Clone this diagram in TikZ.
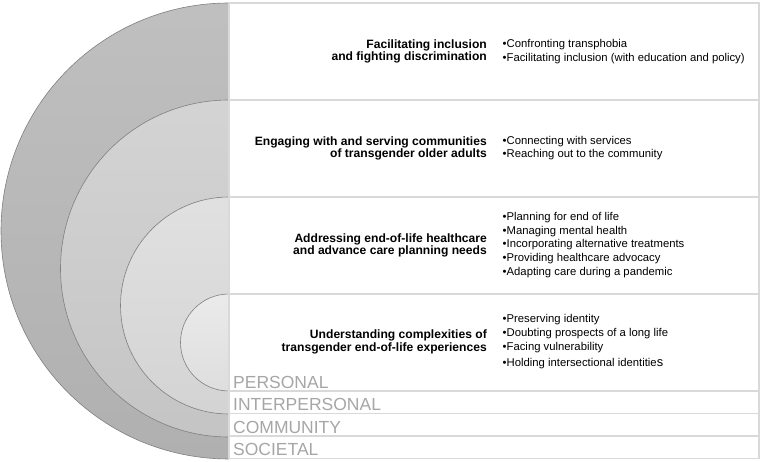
\documentclass[tikz,border=0pt]{standalone}
\usepackage{fontspec}
\setmainfont{Liberation Sans}
\begin{document}
\begin{tikzpicture}[x=1pt,y=-1pt,
  ring/.style={draw=black!50,line width=0.6pt},
  gridline/.style={draw=black!15,line width=1.2pt},
  heading/.style={anchor=east,align=right,font=\fontsize{12.1}{12.6}\selectfont\bfseries,inner sep=0pt},
  items/.style={anchor=west,align=left,font=\fontsize{11.3}{13.7}\selectfont,inner sep=0pt},
  layer/.style={anchor=base west,text=black!35,font=\fontsize{17.5}{17.5}\selectfont,inner sep=0pt}]
\useasboundingbox (0,0) rectangle (764,462);
% half discs
\coordinate (c1) at (229,231);
\coordinate (c2) at (229,268.5);
\coordinate (c3) at (229,305.5);
\coordinate (c4) at (229,342.5);
\shade[top color=black!25,bottom color=black!31] (c1) ++(0,-228) arc[start angle=270,end angle=90,radius=228] -- cycle;
\draw[ring] (c1) ++(0,-228) arc[start angle=270,end angle=90,radius=228];
\shade[top color=black!17,bottom color=black!23] (c2) ++(0,-168.5) arc[start angle=270,end angle=90,radius=168.5] -- cycle;
\draw[ring] (c2) ++(0,-168.5) arc[start angle=270,end angle=90,radius=168.5];
\shade[top color=black!12,bottom color=black!17] (c3) ++(0,-108.5) arc[start angle=270,end angle=90,radius=108.5] -- cycle;
\draw[ring] (c3) ++(0,-108.5) arc[start angle=270,end angle=90,radius=108.5];
\shade[top color=black!8,bottom color=black!13] (c4) ++(0,-48.5) arc[start angle=270,end angle=90,radius=48.5] -- cycle;
\draw[ring] (c4) ++(0,-48.5) arc[start angle=270,end angle=90,radius=48.5];
% table
\coordinate (tl) at (229,3);
\coordinate (br) at (759,458.5);
\draw[gridline] (tl) rectangle (br);
\foreach \yy in {100,197,294,391,413.5,436}
  \draw[gridline] (229,\yy) -- (759,\yy);
% headings
\node[heading] (h1) at (487,51.5) {Facilitating inclusion\\and fighting discrimination};
\node[heading] (h2) at (487,148.5) {Engaging with and serving communities\\of transgender older adults};
\node[heading] (h3) at (487,245.5) {Addressing end-of-life healthcare\\and advance care planning needs};
\node[heading] (h4) at (487,342) {Understanding complexities of\\transgender end-of-life experiences};
% items
\node[items] (i1) at (502.5,51.5) {•Confronting transphobia\\•Facilitating inclusion (with education and policy)};
\node[items] (i2) at (502.5,148) {•Connecting with services\\•Reaching out to the community};
\node[items] (i3) at (502.5,245) {•Planning for end of life\\•Managing mental health\\•Incorporating alternative treatments\\•Providing healthcare advocacy\\•Adapting care during a pandemic};
\node[items] (i4) at (502.5,341.5) {•Preserving identity\\•Doubting prospects of a long life\\•Facing vulnerability\\[2.5pt]•Holding intersectional identitie{\fontsize{12.8}{12.8}\selectfont s}};
% layer labels
\node[layer] (l1) at (233,388.5) {PERSONAL};
\node[layer] (l2) at (233,411) {INTERPERSONAL};
\node[layer] (l3) at (233,433.5) {COMMUNITY};
\node[layer] (l4) at (233,456) {SOCIETAL};
\end{tikzpicture}
\end{document}
